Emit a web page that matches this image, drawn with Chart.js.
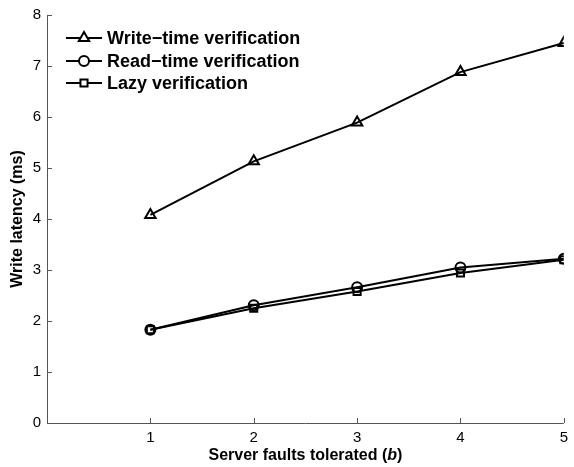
<!DOCTYPE html>
<html><head><meta charset="utf-8">
<script src="https://cdn.jsdelivr.net/npm/chart.js@4"></script>
<style>html,body{margin:0;padding:0;background:#fff}#wrap{width:574px;height:467px}</style>
</head><body><div id="wrap"><canvas id="c"></canvas></div>
<script>
const faults = [1, 2, 3, 4, 5];
const writeTime = [4.08, 5.13, 5.89, 6.88, 7.45];
const readTime = [1.83, 2.31, 2.66, 3.05, 3.22];
const lazy = [1.83, 2.25, 2.58, 2.94, 3.20];
const seriesNames = ['Write\u2212time verification', 'Read\u2212time verification', 'Lazy verification'];
const yTicks = [0, 1, 2, 3, 4, 5, 6, 7, 8];
const xTitleParts = ['Server faults tolerated (', 'b', ')'];
const yTitle = 'Write latency (ms)';

const FONT = "'Liberation Sans', Arial, Helvetica, sans-serif";
const AXIS = '#555';

function ds(label, ys, style) {
  return {
    label, data: faults.map((x, i) => ({x, y: ys[i]})),
    borderColor: '#000', backgroundColor: '#fff', borderWidth: 2,
    pointStyle: style, pointRadius: style === 'triangle' ? 6 : 5, pointBorderWidth: 2,
    pointBackgroundColor: 'rgba(255,255,255,0)', pointBorderColor: '#000', tension: 0
  };
}

const deco = {
  id: 'deco',
  afterDraw(chart) {
    const ctx = chart.ctx, xs = chart.scales.x, ys = chart.scales.y, a = chart.chartArea;
    ctx.save();
    ctx.strokeStyle = AXIS; ctx.lineWidth = 1;
    ctx.beginPath();
    ctx.moveTo(a.left + 0.5, a.top); ctx.lineTo(a.left + 0.5, a.bottom + 0.5); ctx.lineTo(a.right, a.bottom + 0.5);
    faults.forEach(v => { const p = Math.round(xs.getPixelForValue(v)) + 0.5; ctx.moveTo(p, a.bottom); ctx.lineTo(p, a.bottom - 5); });
    yTicks.forEach(v => { const p = Math.round(ys.getPixelForValue(v)) + 0.5; ctx.moveTo(a.left, p); ctx.lineTo(a.left + 5, p); });
    ctx.stroke();
    // axis titles
    ctx.fillStyle = '#000'; ctx.textBaseline = 'middle';
    const fB = 'bold 16px ' + FONT, fBI = 'italic bold 16px ' + FONT;
    const fonts = [fB, fBI, fB];
    let total = 0;
    xTitleParts.forEach((t, i) => { ctx.font = fonts[i]; total += ctx.measureText(t).width; });
    let x = (a.left + a.right) / 2 - total / 2;
    ctx.textAlign = 'left';
    xTitleParts.forEach((t, i) => { ctx.font = fonts[i]; ctx.fillText(t, x, 456); x += ctx.measureText(t).width; });
    ctx.save();
    ctx.translate(18, (a.top + a.bottom) / 2); ctx.rotate(-Math.PI / 2);
    ctx.font = fB; ctx.textAlign = 'center'; ctx.fillText(yTitle, 0, 0);
    ctx.restore();
    // legend
    const rows = [38, 61, 83];
    chart.data.datasets.forEach((d, i) => {
      const y = rows[i];
      ctx.strokeStyle = '#000'; ctx.lineWidth = 2;
      ctx.beginPath(); ctx.moveTo(66, y); ctx.lineTo(102, y); ctx.stroke();
      ctx.fillStyle = '#fff';
      Chart.helpers.drawPoint(ctx, {pointStyle: d.pointStyle, radius: d.pointRadius, borderWidth: 2}, 84, y);
      ctx.fillStyle = '#000'; ctx.font = 'bold 18px ' + FONT; ctx.textBaseline = 'middle'; ctx.textAlign = 'left';
      ctx.fillText(d.label, 107, y + 1);
    });
    ctx.restore();
  }
};

new Chart(document.getElementById('c'), {
  type: 'line',
  data: { datasets: [ds(seriesNames[0], writeTime, 'triangle'), ds(seriesNames[1], readTime, 'circle'), ds(seriesNames[2], lazy, 'rect')] },
  options: {
    responsive: true, maintainAspectRatio: false, animation: false,
    layout: { padding: { top: 15, right: 8, left: 0, bottom: 0 } },
    plugins: { legend: { display: false }, tooltip: { enabled: false } },
    scales: {
      x: {
        type: 'linear', min: 0, max: 5,
        afterBuildTicks: s => { s.ticks = faults.map(v => ({value: v})); },
        afterFit: s => { s.height = 44; },
        grid: { display: false, drawTicks: false }, border: { display: false },
        ticks: { color: '#000', font: { family: FONT, size: 15 }, padding: 6, maxRotation: 0 }
      },
      y: {
        min: 0, max: 8,
        afterBuildTicks: s => { s.ticks = yTicks.map(v => ({value: v})); },
        afterFit: s => { s.width = 47; },
        grid: { display: false, drawTicks: false }, border: { display: false },
        ticks: { color: '#000', font: { family: FONT, size: 15 }, padding: 6 }
      }
    }
  },
  plugins: [deco]
});
</script></body></html>
